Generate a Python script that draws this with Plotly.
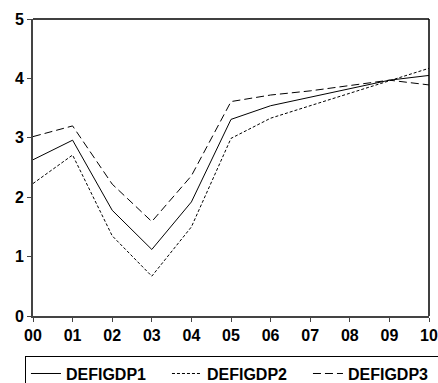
import plotly.graph_objects as go

years = list(range(0, 11))
year_labels = ["00", "01", "02", "03", "04", "05", "06", "07", "08", "09", "10"]

defigdp1 = [2.63, 2.96, 1.78, 1.12, 1.92, 3.31, 3.54, 3.68, 3.83, 3.97, 4.05]
defigdp2 = [2.23, 2.71, 1.35, 0.67, 1.50, 2.99, 3.33, 3.54, 3.75, 3.97, 4.17]
defigdp3 = [3.02, 3.20, 2.22, 1.59, 2.36, 3.61, 3.72, 3.79, 3.88, 3.97, 3.89]

series = [
    ("DEFIGDP1", defigdp1, "solid"),
    ("DEFIGDP2", defigdp2, "3px,2px"),
    ("DEFIGDP3", defigdp3, "8px,4px"),
]

fig = go.Figure()
for name, vals, dash in series:
    fig.add_trace(go.Scatter(
        x=years, y=vals, name=name, mode="lines",
        line=dict(color="black", width=1, dash=dash),
    ))

font_family = "Liberation Sans, Arial, sans-serif"

fig.update_layout(
    width=438, height=383,
    margin=dict(l=33, r=9, t=19, b=67, autoexpand=False),
    paper_bgcolor="white", plot_bgcolor="white",
    showlegend=True,
    legend=dict(
        orientation="h", x=-0.0203, y=-0.1333,
        xanchor="left", yanchor="top",
        bordercolor="black", borderwidth=1,
        entrywidth=96, entrywidthmode="pixels",
        font=dict(family=font_family, size=16, color="black", weight="bold"),
        tracegroupgap=0, itemwidth=30,
    ),
    xaxis=dict(
        range=[0, 10], tickvals=years, ticktext=year_labels,
        showgrid=False, zeroline=False,
        showline=True, linecolor="#444", linewidth=2,
        ticks="outside", ticklen=4, tickcolor="#444", tickwidth=1,
        tickfont=dict(family=font_family, size=16, color="black", weight="bold"),
    ),
    yaxis=dict(
        range=[0, 5], tickvals=[0, 1, 2, 3, 4, 5],
        showgrid=False, zeroline=False,
        showline=True, linecolor="#444", linewidth=2,
        ticks="outside", ticklen=4, tickcolor="#444", tickwidth=1,
        tickfont=dict(family=font_family, size=16, color="black", weight="bold"),
    ),
    shapes=[
        dict(type="line", xref="paper", yref="paper", x0=0, x1=1, y0=1, y1=1,
             line=dict(color="black", width=1.5)),
        dict(type="line", xref="paper", yref="paper", x0=1, x1=1, y0=0, y1=1,
             line=dict(color="black", width=1.5)),
    ],
)

fig.write_html("out.html")
